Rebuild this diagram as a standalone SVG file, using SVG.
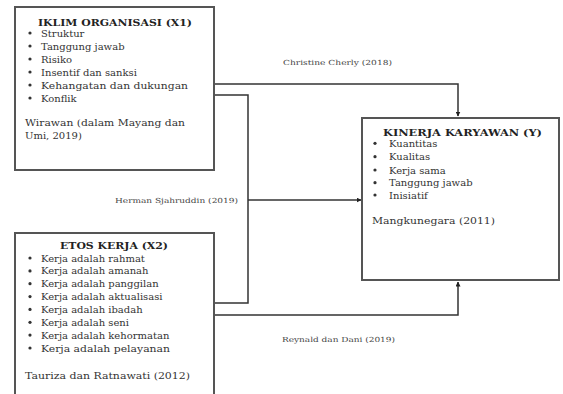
<svg xmlns="http://www.w3.org/2000/svg" width="563" height="394" viewBox="0 0 563 394">
<defs>
<style>
.box{fill:#fff;stroke:#555;stroke-width:2}
.t{font-family:"DejaVu Serif","Liberation Serif",serif;font-size:10px;fill:#333}
.h{font-family:"DejaVu Serif","Liberation Serif",serif;font-size:10px;font-weight:bold;fill:#222}
.s{font-family:"DejaVu Serif","Liberation Serif",serif;font-size:7px;fill:#444}
.c{fill:none;stroke:#333;stroke-width:1.5}
.b{fill:#333}
</style>
<marker id="ah" viewBox="0 0 10 10" refX="9" refY="5" markerWidth="5" markerHeight="5" orient="auto" markerUnits="userSpaceOnUse"><path d="M0,0 L10,5 L0,10 z" fill="#222"/></marker>
</defs>
<rect width="563" height="394" fill="#fff"/>
<g id="connectors">
<path class="c" d="M214 84 H458 V116" marker-end="url(#ah)"/>
<path class="c" d="M214 95 H248 V303 H214"/>
<path class="c" d="M248 200 H361" marker-end="url(#ah)"/>
<path class="c" d="M214 315 H458 V282" marker-end="url(#ah)"/>
<text class="s" x="283" y="64.5" textLength="109" lengthAdjust="spacingAndGlyphs">Christine Cherly (2018)</text>
<text class="s" x="115" y="202.5" textLength="123" lengthAdjust="spacingAndGlyphs">Herman Sjahruddin (2019)</text>
<text class="s" x="282" y="341.5" textLength="113" lengthAdjust="spacingAndGlyphs">Reynald dan Dani (2019)</text>
</g>
<g id="x1">
<rect class="box" x="15" y="7" width="199" height="163"/>
<text class="h" x="38" y="25.5" textLength="154" lengthAdjust="spacingAndGlyphs">IKLIM ORGANISASI (X1)</text>
<g class="b"><circle cx="30" cy="33" r="1.6"/><circle cx="30" cy="46" r="1.6"/><circle cx="30" cy="59" r="1.6"/><circle cx="30" cy="72" r="1.6"/><circle cx="30" cy="85" r="1.6"/><circle cx="30" cy="98" r="1.6"/></g>
<text class="t" x="41" y="36.5">Struktur</text>
<text class="t" x="41" y="49.5">Tanggung jawab</text>
<text class="t" x="41" y="62.5">Risiko</text>
<text class="t" x="41" y="75.5">Insentif dan sanksi</text>
<text class="t" x="41" y="88.5" textLength="147" lengthAdjust="spacingAndGlyphs">Kehangatan dan dukungan</text>
<text class="t" x="41" y="101.5">Konflik</text>
<text class="t" x="25" y="125.5" textLength="160" lengthAdjust="spacingAndGlyphs">Wirawan (dalam Mayang dan</text>
<text class="t" x="25" y="138.5">Umi, 2019)</text>
</g>
<g id="x2">
<rect class="box" x="15" y="233" width="199" height="166"/>
<text class="h" x="60" y="248.5" textLength="108" lengthAdjust="spacingAndGlyphs">ETOS KERJA (X2)</text>
<g class="b"><circle cx="30" cy="258" r="1.6"/><circle cx="30" cy="270.9" r="1.6"/><circle cx="30" cy="283.7" r="1.6"/><circle cx="30" cy="296.6" r="1.6"/><circle cx="30" cy="309.4" r="1.6"/><circle cx="30" cy="322.3" r="1.6"/><circle cx="30" cy="335.1" r="1.6"/><circle cx="30" cy="348" r="1.6"/></g>
<text class="t" x="41" y="261.5">Kerja adalah rahmat</text>
<text class="t" x="41" y="274.4">Kerja adalah amanah</text>
<text class="t" x="41" y="287.2">Kerja adalah panggilan</text>
<text class="t" x="41" y="300.1">Kerja adalah aktualisasi</text>
<text class="t" x="41" y="312.9">Kerja adalah ibadah</text>
<text class="t" x="41" y="325.8">Kerja adalah seni</text>
<text class="t" x="41" y="338.6">Kerja adalah kehormatan</text>
<text class="t" x="41" y="351.5" textLength="129" lengthAdjust="spacingAndGlyphs">Kerja adalah pelayanan</text>
<text class="t" x="25" y="378.5" textLength="165" lengthAdjust="spacingAndGlyphs">Tauriza dan Ratnawati (2012)</text>
</g>
<g id="y">
<rect class="box" x="362" y="118" width="197" height="162"/>
<text class="h" x="383" y="135.5" textLength="159" lengthAdjust="spacingAndGlyphs">KINERJA KARYAWAN (Y)</text>
<g class="b"><circle cx="375" cy="143.3" r="1.6"/><circle cx="375" cy="156.7" r="1.6"/><circle cx="375" cy="170" r="1.6"/><circle cx="375" cy="182.7" r="1.6"/><circle cx="375" cy="195" r="1.6"/></g>
<text class="t" x="389" y="146.8">Kuantitas</text>
<text class="t" x="389" y="160.2">Kualitas</text>
<text class="t" x="389" y="173.5">Kerja sama</text>
<text class="t" x="389" y="186.2">Tanggung jawab</text>
<text class="t" x="389" y="198.5">Inisiatif</text>
<text class="t" x="372" y="223.5" textLength="123" lengthAdjust="spacingAndGlyphs">Mangkunegara (2011)</text>
</g>
</svg>
